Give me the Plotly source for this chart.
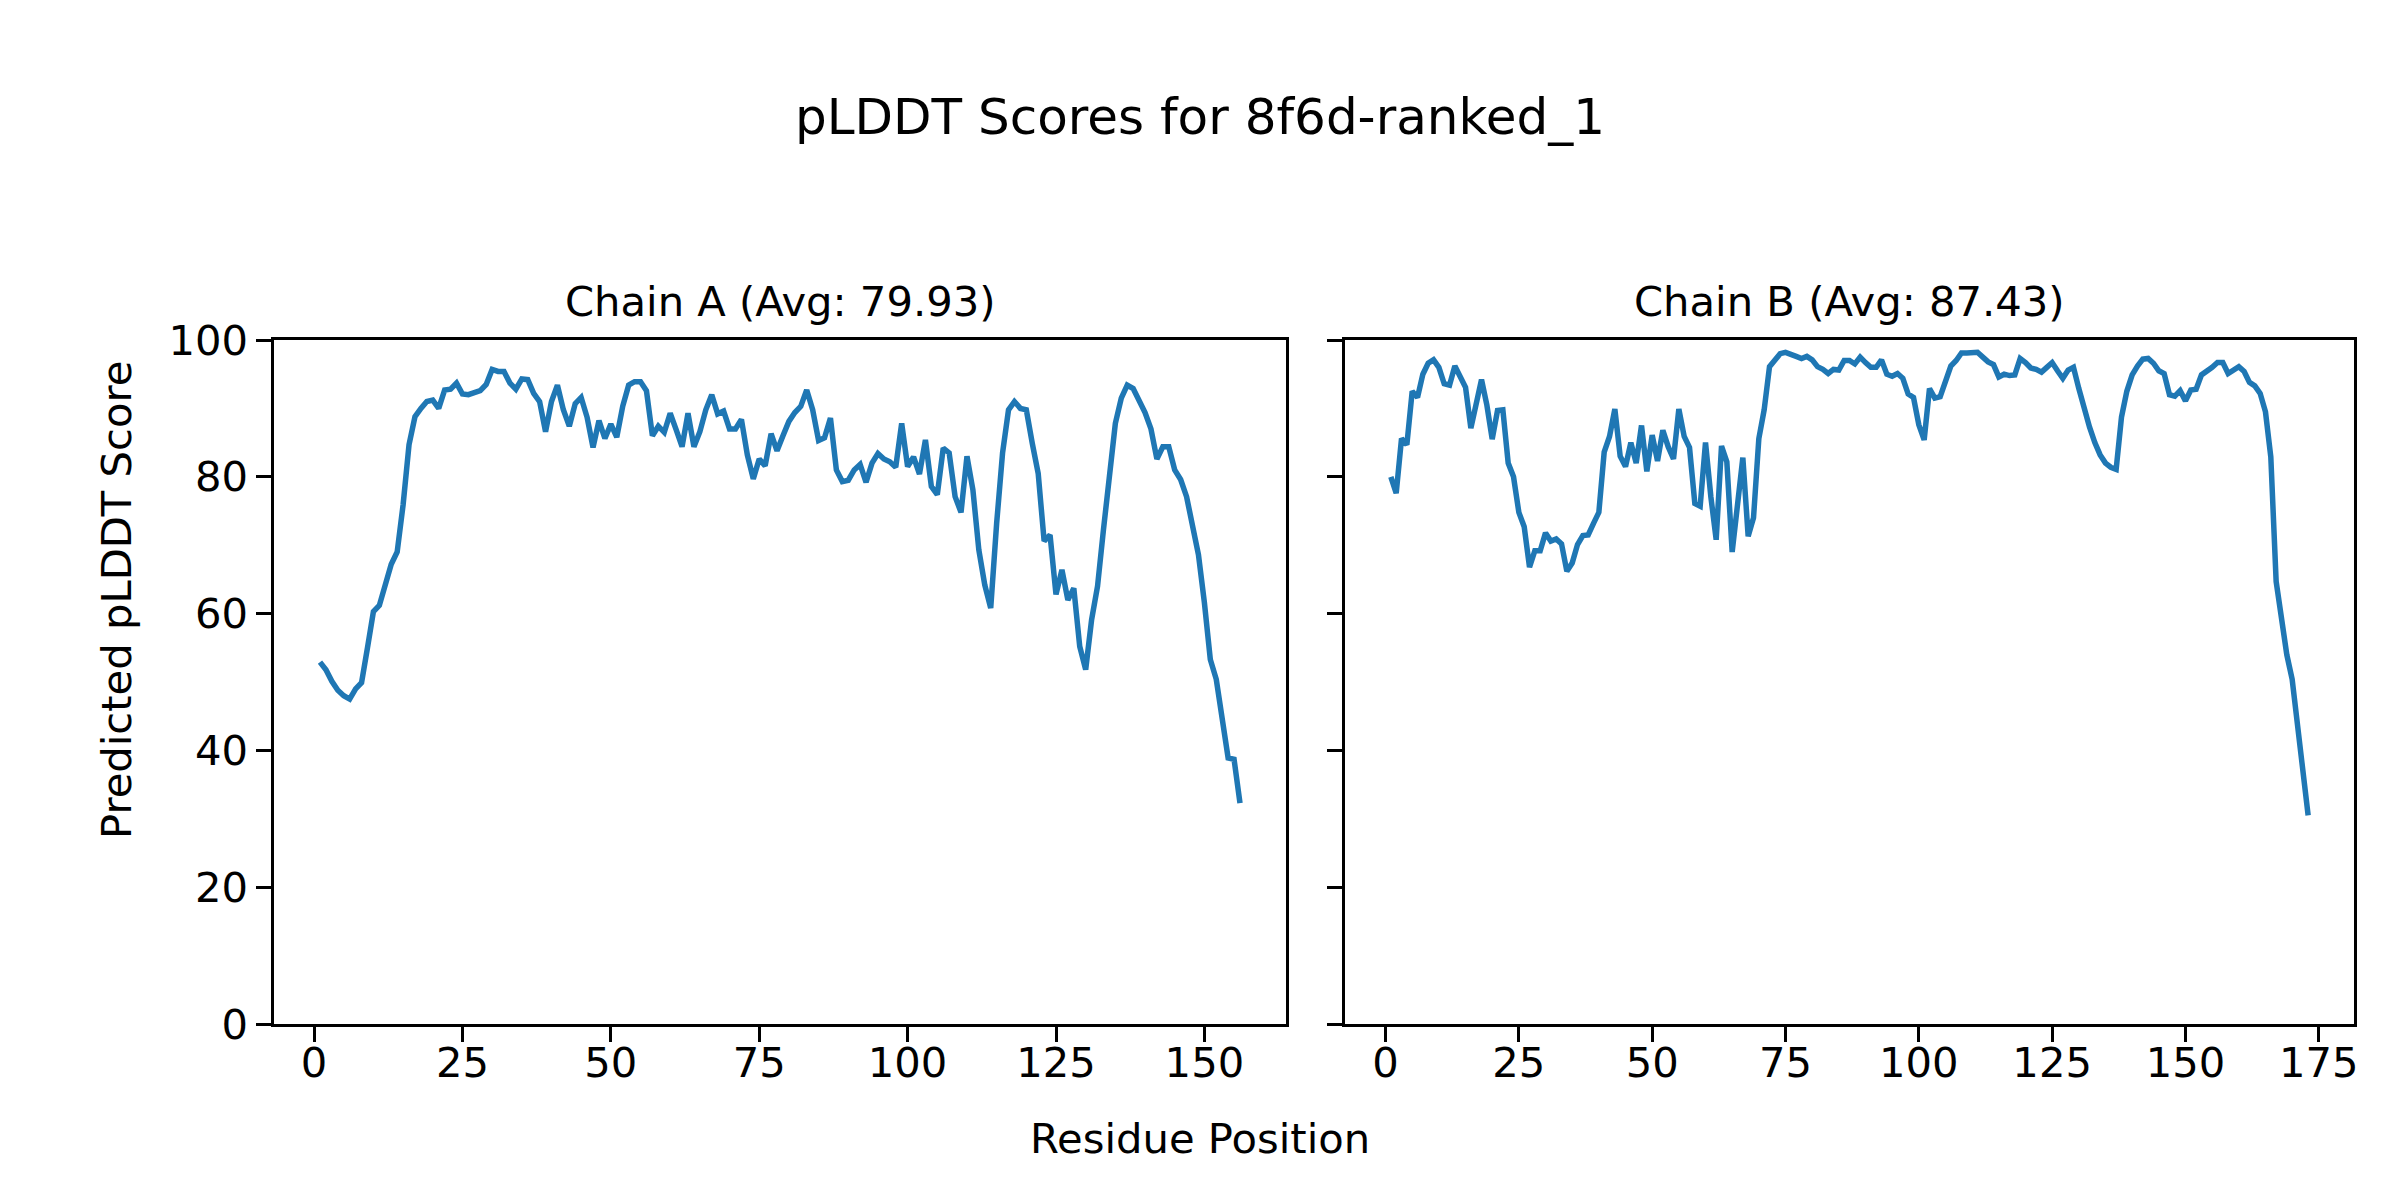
import plotly.graph_objects as go

# ---------------- data ----------------
chain_a_scores = [
    52.9, 51.8, 50.1, 48.8, 48.0, 47.5, 49.0, 49.9, 55.0, 60.3,
    61.2, 64.3, 67.2, 69.0, 75.9, 84.7, 88.8, 90.0, 91.0, 91.2,
    90.0, 92.7, 92.8, 93.7, 92.1, 92.0, 92.2, 92.6, 93.5, 95.7,
    95.4, 95.4, 93.7, 92.8, 94.3, 94.2, 92.2, 91.0, 86.6, 91.0,
    93.4, 89.8, 87.4, 90.7, 91.6, 88.7, 84.3, 88.2, 85.6, 87.7,
    85.8, 90.3, 93.4, 93.9, 93.9, 92.6, 86.0, 87.4, 86.5, 89.3,
    86.9, 84.4, 89.3, 84.4, 86.6, 89.8, 92.0, 89.2, 89.6, 87.0,
    87.0, 88.4, 83.2, 79.7, 82.6, 81.6, 86.3, 83.8, 86.0, 88.1,
    89.4, 90.3, 92.7, 89.8, 85.3, 85.7, 88.6, 81.0, 79.3, 79.5,
    81.0, 81.8, 79.2, 82.0, 83.4, 82.6, 82.2, 81.4, 87.8, 81.5,
    82.9, 80.4, 85.4, 78.6, 77.4, 84.2, 83.5, 77.1, 74.8, 83.0,
    78.1, 69.3, 64.2, 60.8, 73.2, 83.5, 89.8, 91.0, 90.0, 89.8,
    84.9, 80.5, 70.6, 71.5, 62.8, 66.4, 62.0, 63.7, 55.2, 51.8,
    59.1, 64.0, 72.3, 80.3, 87.8, 91.5, 93.4, 92.9, 91.2, 89.4,
    87.0, 82.6, 84.4, 84.4, 81.0, 79.6, 77.1, 72.3, 68.6, 61.6,
    53.3, 50.4, 44.5, 38.9, 38.7, 32.3,
]
chain_b_scores = [
    80.0, 77.6, 85.6, 84.7, 92.5, 91.6, 95.0, 96.6, 97.1, 96.0,
    93.6, 93.4, 96.2, 94.6, 93.1, 87.1, 91.0, 94.2, 90.5, 85.5,
    89.7, 89.8, 82.0, 80.0, 74.8, 72.7, 66.8, 69.2, 69.2, 71.8,
    70.6, 70.9, 70.2, 66.2, 67.4, 70.1, 71.4, 71.5, 73.2, 74.8,
    83.6, 85.9, 89.9, 83.0, 81.5, 85.0, 82.0, 87.5, 80.8, 86.1,
    82.3, 86.8, 84.4, 82.6, 89.9, 85.9, 84.3, 76.1, 75.7, 85.0,
    77.1, 70.8, 84.5, 82.2, 69.0, 76.2, 82.8, 71.3, 74.0, 85.6,
    89.8, 96.1, 97.2, 98.0, 98.2, 98.0, 97.6, 97.3, 97.6, 97.1,
    96.1, 95.7, 95.1, 95.7, 95.6, 97.0, 97.0, 96.5, 97.5, 96.7,
    96.0, 96.0, 97.1, 95.0, 94.7, 95.1, 94.4, 92.1, 91.6, 87.6,
    85.4, 92.9, 91.5, 91.7, 93.9, 96.2, 97.0, 98.1, 98.1, 98.1,
    98.2, 97.5, 96.8, 96.4, 94.6, 95.0, 94.8, 94.9, 97.3, 96.7,
    95.9, 95.7, 95.3, 96.0, 96.7, 95.5, 94.4, 95.6, 96.0, 92.9,
    89.8, 87.3, 85.0, 83.2, 82.0, 81.4, 81.1, 88.7, 92.5, 94.9,
    96.2, 97.2, 97.3, 96.6, 95.5, 95.1, 92.0, 91.8, 92.6, 91.1,
    92.7, 92.8, 94.9, 95.4, 96.0, 96.7, 96.7, 95.1, 95.5, 96.1,
    95.4, 93.8, 93.3, 92.2, 89.5, 82.9, 64.7, 59.1, 54.0, 50.4,
    43.8, 37.2, 30.5,
]
chain_a_positions = list(range(1, len(chain_a_scores) + 1))
chain_b_positions = list(range(1, len(chain_b_scores) + 1))

main_title = "pLDDT Scores for 8f6d-ranked_1"
subtitle_a = "Chain A (Avg: 79.93)"
subtitle_b = "Chain B (Avg: 87.43)"
x_label = "Residue Position"
y_label = "Predicted pLDDT Score"
x_ticks_a = [0, 25, 50, 75, 100, 125, 150]
x_ticks_b = [0, 25, 50, 75, 100, 125, 150, 175]
y_ticks = [0, 20, 40, 60, 80, 100]

# ---------------- styling ----------------
# The page body has an 8px margin, so the figure is drawn 16px smaller
# and every position (given in page pixels) is shifted by that margin.
OFF = 8
W, H = 2400 - 2 * OFF, 1200 - 2 * OFF
FONT = "DejaVu Sans"
LINE_COLOR = "#1f77b4"
TICK_FS = 41.7
LABEL_FS = 41.7
TITLE_FS = 50

def px_x(p):
    return (p - OFF) / W

def px_y(p):
    return 1 - (p - OFF) / H

def mpl_range(n):
    span = n - 1
    return [1 - 0.05 * span, n + 0.05 * span]

axA = [px_x(274), px_x(1286)]
axB = [px_x(1345), px_x(2354)]
ydom = [px_y(1024), px_y(340)]

fig = go.Figure()
fig.add_trace(go.Scatter(x=chain_a_positions, y=chain_a_scores, mode="lines",
                         line=dict(color=LINE_COLOR, width=5.5),
                         xaxis="x", yaxis="y", showlegend=False))
fig.add_trace(go.Scatter(x=chain_b_positions, y=chain_b_scores, mode="lines",
                         line=dict(color=LINE_COLOR, width=5.5),
                         xaxis="x2", yaxis="y2", showlegend=False))

common = dict(showline=True, linecolor="black", linewidth=3, mirror=True,
              ticks="outside", ticklen=14.6, tickwidth=3, tickcolor="black",
              showgrid=False, zeroline=False, automargin=False,
              tickfont=dict(family=FONT, size=TICK_FS, color="black"))

fig.update_layout(
    template="none",
    width=W, height=H,
    margin=dict(l=0, r=0, t=0, b=0, pad=0),
    paper_bgcolor="white", plot_bgcolor="white",
    font=dict(family=FONT, color="black"),
    xaxis=dict(domain=axA, range=mpl_range(len(chain_a_scores)),
               tickmode="array", tickvals=x_ticks_a, anchor="y",
               ticklabelstandoff=-15, **common),
    yaxis=dict(domain=ydom, range=[0, 100], tickmode="array", tickvals=y_ticks,
               anchor="x", ticklabelstandoff=0, **common),
    xaxis2=dict(domain=axB, range=mpl_range(len(chain_b_scores)),
                tickmode="array", tickvals=x_ticks_b, anchor="y2",
                ticklabelstandoff=-15, **common),
    yaxis2=dict(domain=ydom, range=[0, 100], tickmode="array", tickvals=y_ticks,
                anchor="x2", showticklabels=False, **common),
)

annotations = [
    dict(text=main_title, x=px_x(1200), y=px_y(117), font=dict(size=TITLE_FS)),
    dict(text=subtitle_a, x=(axA[0] + axA[1]) / 2, y=px_y(302), font=dict(size=LABEL_FS)),
    dict(text=subtitle_b, x=(axB[0] + axB[1]) / 2, y=px_y(302), font=dict(size=LABEL_FS)),
    dict(text=x_label, x=px_x(1200), y=px_y(1138), font=dict(size=LABEL_FS)),
    dict(text=y_label, x=px_x(116), y=px_y(600), textangle=-90, font=dict(size=LABEL_FS)),
]
for a in annotations:
    a.update(xref="paper", yref="paper", showarrow=False,
             xanchor="center", yanchor="middle")
    a["font"].update(family=FONT, color="black")
fig.update_layout(annotations=annotations)

fig.write_html("out.html")
